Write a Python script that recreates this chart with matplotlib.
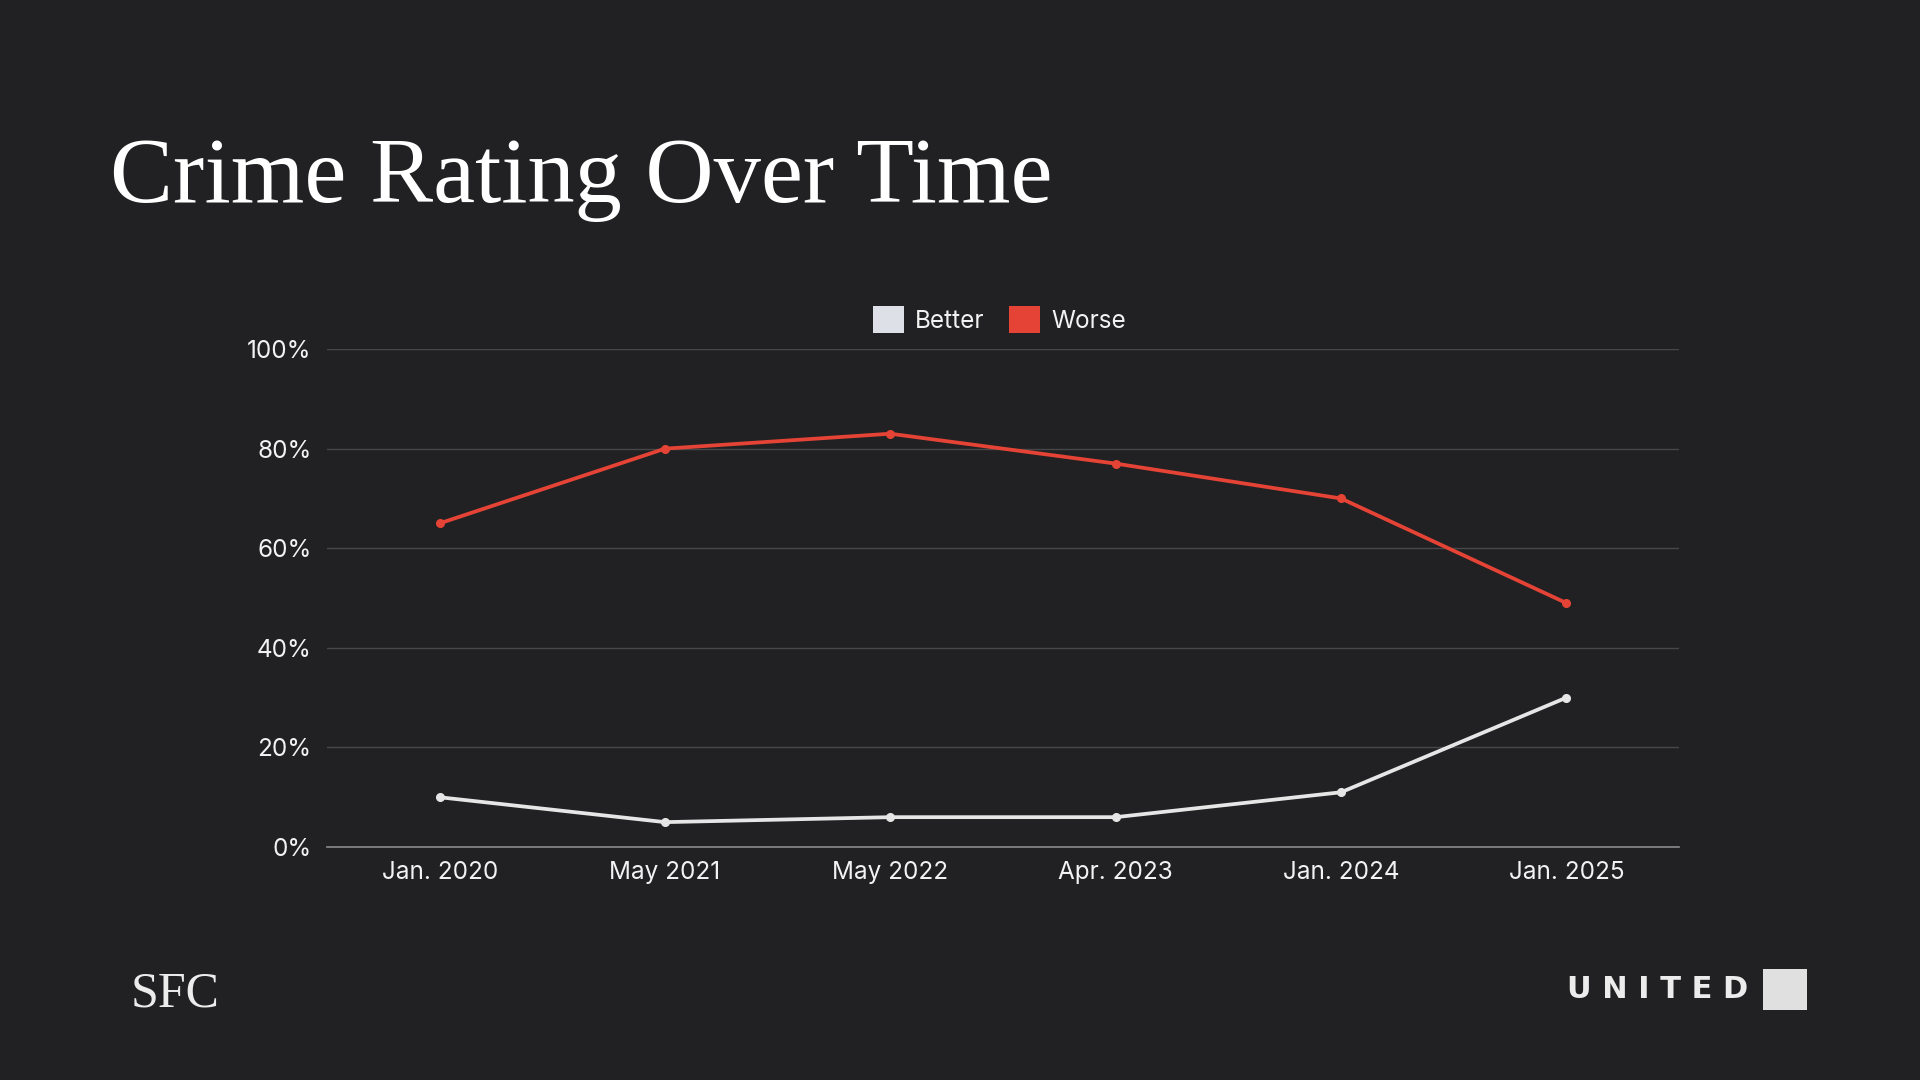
import matplotlib.pyplot as plt
from matplotlib.patches import Patch, Rectangle

# data
periods = ['Jan. 2020', 'May 2021', 'May 2022', 'Apr. 2023', 'Jan. 2024', 'Jan. 2025']
better = [10, 5, 6, 6, 11, 30]
worse = [65, 80, 83, 77, 70, 49]
yticks = [0, 20, 40, 60, 80, 100]

BG = '#212123'
RED = '#e54335'
WHITE = '#e6e6e6'
SWATCH = '#dde1e7'

plt.rcParams['font.family'] = ['Inter', 'DejaVu Sans']

fig = plt.figure(figsize=(19.2, 10.8), dpi=100, facecolor=BG)
ax = fig.add_axes([0.1703, 0.2157, 0.7042, 0.4611], facecolor=BG)

x = list(range(len(periods)))
ax.plot(x, better, color=WHITE, lw=2.7, marker='o', ms=5.5, zorder=3)
ax.plot(x, worse, color=RED, lw=2.7, marker='o', ms=5.5, zorder=3)

ax.set_xlim(-0.5, len(periods) - 0.5)
ax.set_ylim(0, 100)
ax.set_yticks(yticks)
ax.set_yticklabels([str(v) + '%' for v in yticks])
ax.set_xticks(x)
ax.set_xticklabels(periods)
ax.grid(axis='y', color='#47474a', lw=1)
ax.set_axisbelow(True)
for s in ['top', 'right', 'left']:
    ax.spines[s].set_visible(False)
ax.spines['bottom'].set_color('#8a8a8c')
ax.spines['bottom'].set_linewidth(1.2)
ax.spines['bottom'].set_zorder(4)
ax.tick_params(length=0, labelsize=17.5, colors='#f2f2f2', pad=10)
ax.tick_params(axis='y', pad=11)

handles = [Patch(facecolor=SWATCH, edgecolor='none', label='Better'),
           Patch(facecolor=RED, edgecolor='none', label='Worse')]
fig.legend(handles=handles, loc='center', bbox_to_anchor=(0.5205, 0.704), ncol=2,
           frameon=False, fontsize=17.5, labelcolor='#f2f2f2',
           handlelength=1.3, handleheight=1.3, handletextpad=0.45, columnspacing=1.0)

fig.text(0.0573, 0.813, 'Crime Rating Over Time', family='Liberation Serif',
         fontsize=68, color='white', va='baseline', ha='left')

# footer logos as text
fig.text(0.068, 0.068, 'SFC', family='Liberation Serif', fontsize=36,
         color='#ececec', va='baseline', ha='left')
fig.text(0.9106, 0.0835, 'U N I T E D', family='DejaVu Sans', fontsize=22,
         fontweight='bold', color='#ececec', va='center', ha='right')
fig.patches.append(Rectangle((0.918, 0.0648), 0.023, 0.038, transform=fig.transFigure,
                             facecolor='#e0e0e0', edgecolor='none'))

fig.savefig('out.png', dpi=100, facecolor=BG)
